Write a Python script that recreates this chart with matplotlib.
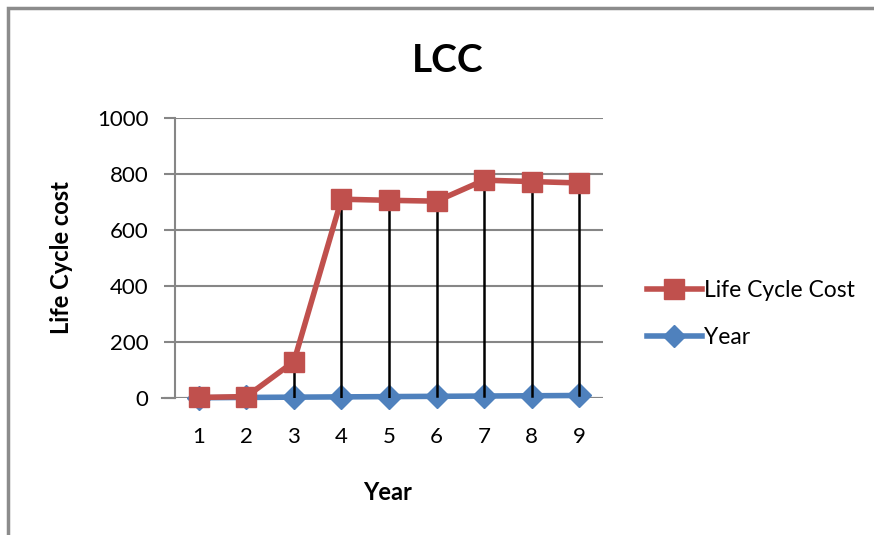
import matplotlib
matplotlib.use("Agg")
import matplotlib.pyplot as plt
from matplotlib.patches import Rectangle

plt.rcParams['font.family'] = ['Lato', 'DejaVu Sans']

years = [1, 2, 3, 4, 5, 6, 7, 8, 9]
lcc = [2, 5, 130, 710, 706, 703, 778, 773, 768]
year_vals = [1, 2, 3, 4, 5, 6, 7, 8, 9]
yticks = [0, 200, 400, 600, 800, 1000]

red = '#C0504D'
blue = '#4F81BD'
grid = '#868686'

fig = plt.figure(figsize=(8.74, 5.35), dpi=100)
ax = fig.add_axes([175/874, 1-398/535, (603-175)/874, (398-118)/535])

# outer chart frame
fig.patches.append(Rectangle((8/874, -0.1), 1.2, (535-8)/535 + 0.1, transform=fig.transFigure,
                             fill=False, edgecolor='#8c8c8c', linewidth=2.5))

# high-low lines between the two series
for x, lo, hi in zip(years, year_vals, lcc):
    ax.plot([x, x], [lo, hi], color='black', linewidth=1.8, zorder=4)

ax.plot(years, year_vals, color=blue, linewidth=4, marker='D', markersize=12,
        markeredgecolor=blue, label='Year', zorder=3, clip_on=False)
ax.plot(years, lcc, color=red, linewidth=4, marker='s', markersize=15,
        markeredgecolor=red, label='Life Cycle Cost', zorder=6, clip_on=False)

ax.set_xlim(0.5, 9.5)
ax.set_ylim(0, 1000)
ax.set_xticks(years)
ax.set_yticks(yticks)
ax.set_yticklabels([str(v) for v in yticks])
ax.grid(axis='y', color=grid, linewidth=1.5)
ax.set_axisbelow(True)
for s in ['top', 'right', 'bottom']:
    ax.spines[s].set_visible(False)
ax.spines['left'].set_color(grid)
ax.spines['left'].set_linewidth(1.5)
ax.tick_params(axis='y', length=8, width=1.5, color=grid, pad=11, labelsize=16)
ax.tick_params(axis='x', length=0, pad=21, labelsize=16)
ax.axhline(0, color=grid, linewidth=1.5, zorder=1)
ax.plot([-0.03, 0], [0, 0], transform=ax.get_yaxis_transform(), color=grid,
        linewidth=1.5, clip_on=False)

h, l = ax.get_legend_handles_labels()
fig.legend(h[::-1], l[::-1], loc='center left', bbox_to_anchor=(626/874, 1-314/535),
           frameon=False, fontsize=16.5, handlelength=2.4, handletextpad=0.1,
           labelspacing=1.15, markerscale=0.95)

fig.text(448/874, 1-60/535, 'LCC', ha='center', va='center', fontsize=28, fontweight='bold')
fig.text(388/874, 1-492/535, 'Year', ha='center', va='center', fontsize=17, fontweight='bold')
fig.text(62/874, 1-258/535, 'Life Cycle cost', ha='center', va='center', rotation=90,
         fontsize=17, fontweight='bold')

fig.savefig('out.png', dpi=100)
